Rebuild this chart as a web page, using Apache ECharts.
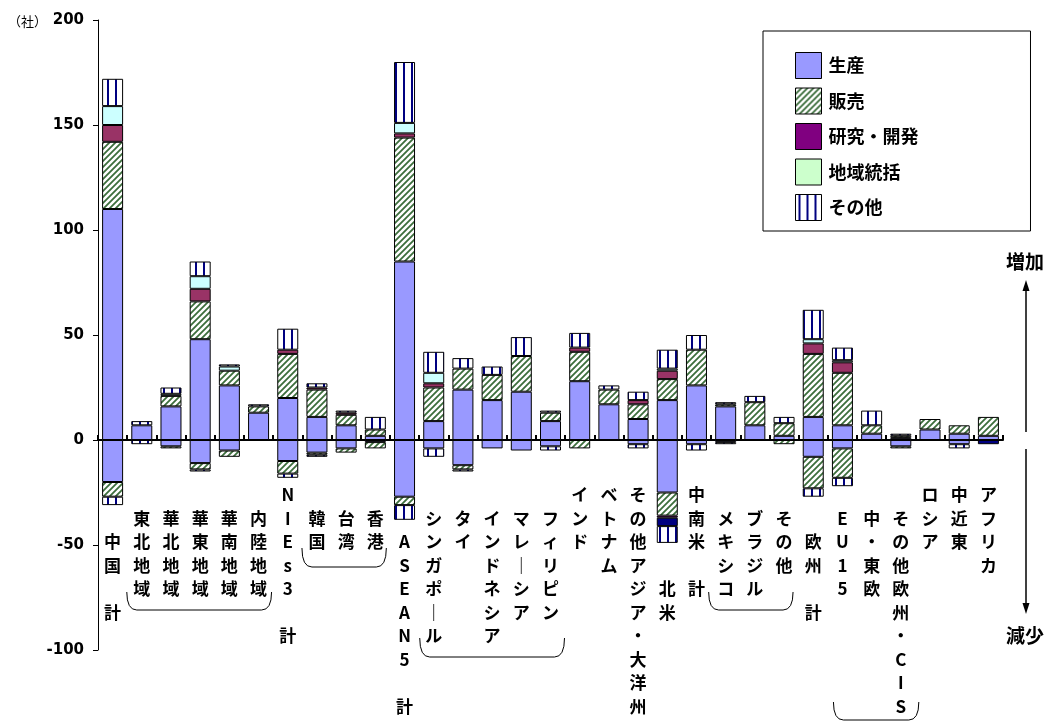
<!DOCTYPE html>
<html>
<head>
<meta charset="utf-8">
<script src="https://cdn.jsdelivr.net/npm/echarts@6/dist/echarts.min.js"></script>
<style>
  html, body { margin: 0; padding: 0; background: #fff; }
  #chart { width: 1057px; height: 721px; }
</style>
</head>
<body>
<div id="chart"></div>
<script>
// Regions along the category axis
const categories = [
  '中国計', '東北地域', '華北地域', '華東地域', '華南地域', '内陸地域',
  'NIEs3計', '韓国', '台湾', '香港',
  'ASEAN5計', 'シンガポール', 'タイ', 'インドネシア', 'マレーシア', 'フィリピン',
  'インド', 'ベトナム', 'その他アジア・大洋州', '北米',
  '中南米計', 'メキシコ', 'ブラジル', 'その他',
  '欧州計', 'EU15', '中・東欧', 'その他欧州・CIS',
  'ロシア', '中近東', 'アフリカ'
];

// Row on which each vertical label starts
const labelRow = [2, 1, 1, 1, 1, 1, 0, 1, 1, 1, 2, 1, 1, 1, 1, 1, 0, 0, 0, 4, 0, 1, 1, 1, 2, 1, 1, 1, 0, 0, 0];

const functionNames = ['生産', '販売', '研究・開発', '地域統括', 'その他'];

// Increase (社)
const prodInc  = [110, 7, 16, 48, 26, 13, 20, 11, 7, 2, 85, 9, 24, 19, 23, 9, 28, 17, 10, 19, 26, 16, 7, 2, 11, 7, 3, 1, 5, 3, 2];
const salesInc = [32, 0, 5, 18, 7, 3, 21, 13, 5, 3, 59, 16, 10, 12, 17, 4, 14, 7, 7, 10, 17, 1, 11, 6, 30, 25, 4, 1, 5, 4, 9];
const rdInc    = [8, 0, 0, 6, 0, 0, 2, 1, 1, 0, 2, 2, 0, 0, 0, 0, 2, 0, 2, 4, 0, 0, 0, 0, 5, 5, 0, 0, 0, 0, 0];
const hqInc    = [9, 0, 1, 6, 2, 0, 0, 0, 0, 0, 5, 5, 0, 0, 0, 0, 0, 0, 0, 1, 0, 0, 0, 0, 2, 1, 0, 0, 0, 0, 0];
const otherInc = [13, 2, 3, 7, 1, 1, 10, 2, 1, 6, 29, 10, 5, 4, 9, 1, 7, 2, 4, 9, 7, 1, 3, 3, 14, 6, 7, 1, 0, 0, 0];

// Decrease (社)
const prodDec  = [-20, 0, -3, -11, -5, 0, -10, -6, -4, -1, -27, -4, -12, -4, -5, -3, 0, 0, -2, -25, -2, -1, 0, 0, -8, -4, 0, -3, 0, -2, 0];
const salesDec = [-7, 0, -1, -3, -3, 0, -6, -1, -2, -3, -4, 0, -2, 0, 0, 0, -4, 0, 0, -11, 0, 0, 0, -2, -15, -14, 0, -1, 0, 0, 0];
const rdDec    = [0, 0, 0, 0, 0, 0, 0, 0, 0, 0, 0, 0, 0, 0, 0, 0, 0, 0, 0, -1, 0, 0, 0, 0, 0, 0, 0, 0, 0, 0, 0];
const hqDec    = [0, 0, 0, 0, 0, 0, 0, 0, 0, 0, 0, 0, 0, 0, 0, 0, 0, 0, 0, -4, 0, 0, 0, 0, 0, 0, 0, 0, 0, 0, -2];
const otherDec = [-4, -2, 0, -1, 0, 0, -2, -1, 0, 0, -7, -4, -1, 0, 0, -2, 0, 0, -2, -8, -3, -1, 0, 0, -4, -4, 0, 0, 0, -2, 0];

// Value axis range
const yMin = -100, yMax = 200, yStep = 50;

// Groups of sub-regions underlined by a bracket: [first, last, top, bottom, padLeft, padRight]
const brackets = [
  [1, 5, 592, 610, -15, 13],
  [7, 9, 548, 567, -15, 11],
  [11, 15, 638, 657, -14, 14],
  [21, 23, 592, 610, -17, 9],
  [25, 27, 702, 720, -9, 18]
];

// --- fill patterns ---
function hatchPattern() {
  const s = 6, c = document.createElement('canvas');
  c.width = s; c.height = s;
  const g = c.getContext('2d');
  g.fillStyle = '#ffffff'; g.fillRect(0, 0, s, s);
  g.strokeStyle = '#3c6e3c'; g.lineWidth = 1.8;
  g.beginPath();
  g.moveTo(0, s); g.lineTo(s, 0);
  g.moveTo(-1, 1); g.lineTo(1, -1);
  g.moveTo(s - 1, s + 1); g.lineTo(s + 1, s - 1);
  g.stroke();
  return { image: c, repeat: 'repeat' };
}
function stripePattern() {
  const c = document.createElement('canvas');
  c.width = 8; c.height = 8;
  const g = c.getContext('2d');
  g.fillStyle = '#ffffff'; g.fillRect(0, 0, 8, 8);
  g.fillStyle = '#000080'; g.fillRect(3, 0, 2, 8);
  return { image: c, repeat: 'repeat' };
}

const hatch = hatchPattern();
const stripes = stripePattern();

const upColors = ['#9999ff', hatch, '#993366', '#ccffff', stripes];
const downColors = ['#9999ff', hatch, '#800080', '#000080', stripes];
const legendColors = ['#9999ff', hatch, '#800080', '#ccffcc', stripes];

const incData = [prodInc, salesInc, rdInc, hqInc, otherInc];
const decData = [prodDec, salesDec, rdDec, hqDec, otherDec];

function barSeries(name, data, color) {
  return {
    type: 'bar',
    name: name,
    stack: 'total',
    barWidth: 21,
    data: data.map(v => (v === 0 ? null : v)),
    itemStyle: { color: color, borderColor: '#000', borderWidth: 1 },
    emphasis: { disabled: true },
    silent: true
  };
}

const series = [];
functionNames.forEach((n, i) => series.push(barSeries(n, incData[i], upColors[i])));
functionNames.forEach((n, i) => series.push(barSeries(n, decData[i], downColors[i])));

// Vertical label text: one character per line, a blank line before a closing 計
function verticalLabel(name) {
  const chars = Array.from(name).map(ch => (ch === 'ー' ? '｜' : ch));
  const lines = [];
  chars.forEach((ch, k) => {
    if (ch === '計' && k === chars.length - 1 && k > 0) lines.push('');
    lines.push(ch);
  });
  return lines.join('\n');
}

const chart = echarts.init(document.getElementById('chart'), null, { renderer: 'canvas' });

const cjk = '"Noto Sans CJK JP", "Noto Sans CJK SC", sans-serif';

chart.setOption({
  animation: false,
  backgroundColor: '#ffffff',
  grid: { left: 98, right: 54, top: 20, bottom: 71, containLabel: false },
  legend: {
    orient: 'vertical',
    left: 763,
    top: 31,
    padding: [21, 112, 10, 32],
    itemWidth: 26,
    itemHeight: 26,
    itemGap: 8.5,
    icon: 'rect',
    borderColor: '#000',
    borderWidth: 1,
    backgroundColor: '#fff',
    selectedMode: false,
    textStyle: { fontSize: 18, fontWeight: 'bold', color: '#000', fontFamily: cjk, padding: [0, 0, 0, 2] },
    data: functionNames.map((n, i) => ({
      name: n,
      itemStyle: { color: legendColors[i], borderColor: '#000', borderWidth: 1 }
    }))
  },
  xAxis: {
    type: 'category',
    data: categories,
    axisLine: { onZero: true, lineStyle: { color: '#000', width: 2 } },
    axisTick: { show: true, inside: true, length: 5, interval: 0, lineStyle: { color: '#000', width: 2 } },
    axisLabel: { show: false },
    splitLine: { show: false }
  },
  yAxis: {
    type: 'value',
    min: yMin,
    max: yMax,
    interval: yStep,
    axisLine: { show: true, lineStyle: { color: '#000', width: 1 } },
    axisTick: { show: true, length: 5, lineStyle: { color: '#000' } },
    splitLine: { show: false },
    axisLabel: { fontSize: 15, fontWeight: 'bold', fontFamily: '"DejaVu Sans", sans-serif', color: '#000', margin: 14 }
  },
  series: series
});

// Category names written vertically under the zero line, plus unit, arrows and brackets
const graphics = [];
const zeroY = chart.convertToPixel({ yAxisIndex: 0 }, 0);
const rowH = 23.5;
const firstRowTop = zeroY + 43;

categories.forEach((name, i) => {
  const cx = chart.convertToPixel({ xAxisIndex: 0 }, i);
  graphics.push({
    type: 'text',
    x: cx,
    y: firstRowTop + labelRow[i] * rowH,
    silent: true,
    style: {
      text: verticalLabel(name),
      font: 'bold 17px ' + cjk,
      lineHeight: rowH,
      fill: '#000',
      align: 'center',
      verticalAlign: 'top'
    }
  });
});

graphics.push({
  type: 'text', x: 8, y: 21,
  style: { text: '（社）', font: '13px ' + cjk, fill: '#000', verticalAlign: 'middle' }
});

const ax = 1026;
graphics.push({ type: 'line', shape: { x1: ax, y1: 432, x2: ax, y2: 288 }, style: { stroke: '#000', lineWidth: 1.5 } });
graphics.push({ type: 'polygon', shape: { points: [[ax, 280], [ax - 3.5, 291], [ax + 3.5, 291]] }, style: { fill: '#000' } });
graphics.push({ type: 'line', shape: { x1: ax, y1: 449, x2: ax, y2: 606 }, style: { stroke: '#000', lineWidth: 1.5 } });
graphics.push({ type: 'polygon', shape: { points: [[ax, 614], [ax - 3.5, 603], [ax + 3.5, 603]] }, style: { fill: '#000' } });
graphics.push({
  type: 'text', x: ax - 1, y: 262,
  style: { text: '増加', font: 'bold 19px ' + cjk, fill: '#000', align: 'center', verticalAlign: 'middle' }
});
graphics.push({
  type: 'text', x: ax - 1, y: 636,
  style: { text: '減少', font: 'bold 19px ' + cjk, fill: '#000', align: 'center', verticalAlign: 'middle' }
});

brackets.forEach(([a, b, t, bt, dl, dr]) => {
  const l = chart.convertToPixel({ xAxisIndex: 0 }, a) + dl;
  const r = chart.convertToPixel({ xAxisIndex: 0 }, b) + dr;
  const k = 10;
  const st = { stroke: '#000', lineWidth: 1, fill: null };
  graphics.push({ type: 'bezierCurve', shape: { x1: l, y1: t, cpx1: l, cpy1: bt, x2: l + k, y2: bt }, style: st });
  graphics.push({ type: 'line', shape: { x1: l + k, y1: bt, x2: r - k, y2: bt }, style: st });
  graphics.push({ type: 'bezierCurve', shape: { x1: r - k, y1: bt, cpx1: r, cpy1: bt, x2: r, y2: t }, style: st });
});

chart.setOption({ graphic: graphics });
</script>
</body>
</html>
